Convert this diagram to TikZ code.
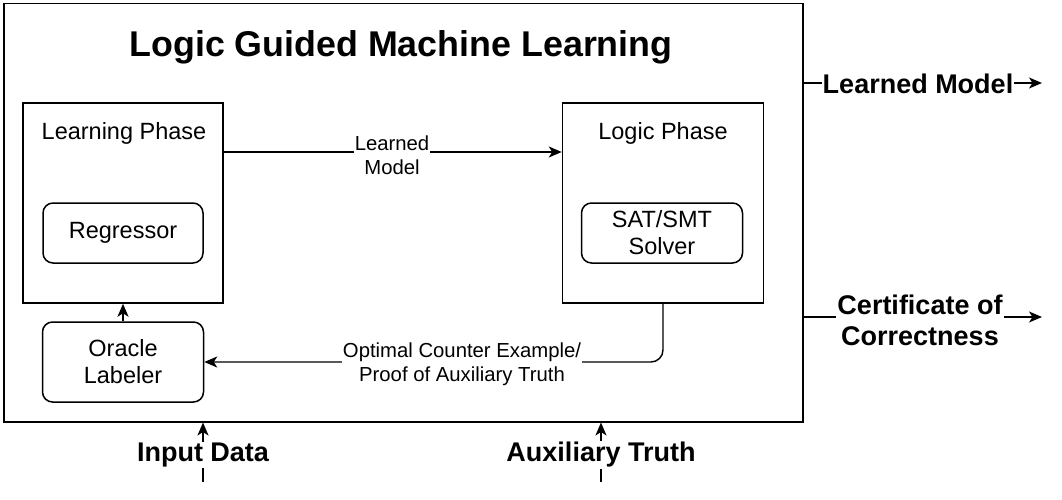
\documentclass[tikz,border=0pt]{standalone}
\usepackage{fontspec}
\setmainfont{Liberation Sans}
\usetikzlibrary{arrows.meta}
\begin{document}
\begin{tikzpicture}[x=1pt,y=-1pt,
  rbox/.style={draw, line width=1.5pt, rounded corners=10pt, inner sep=0pt, align=center, font=\fontsize{23.5}{27}\selectfont},
  plabel/.style={font=\fontsize{23.5}{27}\selectfont, inner sep=0pt},
  elabel/.style={fill=white, inner sep=1pt, align=center, font=\fontsize{20.3}{23.5}\selectfont},
  olabel/.style={fill=white, inner sep=1pt, align=center, font=\fontsize{27}{31}\selectfont\bfseries},
  arr/.style={line width=1.4pt, -{Stealth[length=13pt,width=11pt,inset=3.5pt]}}
]
\useasboundingbox (0,0) rectangle (1062,500);

% outer container
\node[draw, line width=1.5pt, inner sep=0pt, minimum width=799pt, minimum height=418pt, anchor=north west] (outer) at (3,3) {};
\node[font=\fontsize{35.8}{40}\selectfont\bfseries, inner sep=0pt] (title) at (401,47) {Logic Guided Machine Learning};

% phases
\node[draw, line width=1.5pt, inner sep=0pt, minimum width=200pt, minimum height=200pt] (learn) at (123,203) {};
\node[plabel] (learntxt) at (124,133) {Learning Phase};
\node[draw, line width=1.5pt, inner sep=0pt, minimum width=201pt, minimum height=200pt] (logic) at (663,203) {};
\node[plabel] (logictxt) at (663,133) {Logic Phase};

% inner boxes
\node[rbox, minimum width=160pt, minimum height=60pt] (reg) at (123,233) {Regressor};
\node[rbox, minimum width=161pt, minimum height=60pt] (sat) at (662,233) {SAT/SMT\\Solver};
\node[rbox, minimum width=161pt, minimum height=80pt] (oracle) at (123,362) {Oracle\\Labeler};

% connectors
\draw[arr] (oracle.north) -- (learn.south);
\draw[arr] ([yshift=51pt]learn.east) -- ([yshift=51pt]logic.west);
\node[elabel] (lmlabel) at (392,155) {Learned\\Model};

\draw[arr, rounded corners=12pt] (logic.south) |- (oracle.east);
\node[elabel] (fblabel) at (462,364) {Optimal Counter Example/\\Proof of Auxiliary Truth};

% outputs
\coordinate (lmEnd) at (1042,83);
\coordinate (ccEnd) at (1042,317);
\draw[arr] ([yshift=-80pt]outer.north east) -- (lmEnd);
\node[olabel] (lmout) at (918,84) {Learned Model};
\draw[arr] ([yshift=-314pt]outer.north east) -- (ccEnd);
\node[olabel] (ccout) at (920,320) {Certificate of\\Correctness};

% inputs
\coordinate (inA) at (203,482);
\coordinate (inB) at (601,482);
\draw[arr] (inA) -- (inA |- outer.south);
\node[olabel] (inAlabel) at (203,455) {Input Data};
\draw[arr] (inB) -- (inB |- outer.south);
\node[olabel] (inBlabel) at (601,455) {Auxiliary Truth};
\end{tikzpicture}
\end{document}
